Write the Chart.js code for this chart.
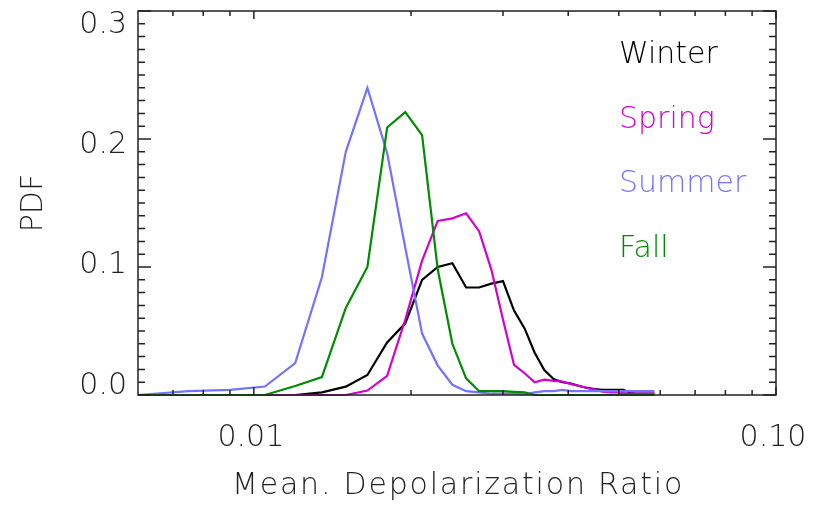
<!DOCTYPE html>
<html>
<head>
<meta charset="utf-8">
<script src="https://cdn.jsdelivr.net/npm/chart.js@4/dist/chart.umd.min.js"></script>
<style>
  html, body { margin: 0; padding: 0; background: #fff; }
  canvas { display: block; }
</style>
</head>
<body>
<canvas id="pdf" width="825" height="505"></canvas>
<script>
// bin centres of the depolarization ratio histogram
const ratioBins = [
  0.006, 0.0075, 0.009, 0.0105, 0.012, 0.0135, 0.015, 0.0165, 0.018, 0.0195,
  0.021, 0.0225, 0.024, 0.0255, 0.027, 0.0285, 0.030, 0.0315, 0.033, 0.0345,
  0.036, 0.0375, 0.039, 0.0405, 0.042, 0.0435, 0.045, 0.0465, 0.048, 0.0495,
  0.051, 0.0525, 0.054, 0.0555, 0.057, 0.0585
];

const winterPdf = [
  0, 0, 0, 0, 0, 0.002, 0.0065, 0.0156, 0.041, 0.056,
  0.090, 0.100, 0.103, 0.084, 0.084, 0.087, 0.089, 0.066, 0.052, 0.033,
  0.0195, 0.0125, 0.010, 0.009, 0.007, 0.0055, 0.0047, 0.004, 0.004, 0.004,
  0.004, 0.002, 0.001, 0.001, 0.001, 0.001
];
const springPdf = [
  0, 0, 0, 0, 0, 0, 0, 0.0035, 0.015, 0.059,
  0.105, 0.136, 0.138, 0.142, 0.128, 0.098, 0.059, 0.0235, 0.017, 0.010,
  0.012, 0.011, 0.0105, 0.0085, 0.007, 0.0055, 0.0043, 0.0027, 0.002, 0.002,
  0.0015, 0.001, 0.001, 0.001, 0.001, 0.001
];
const summerPdf = [
  0, 0.003, 0.004, 0.0066, 0.025, 0.092, 0.19, 0.240, 0.189, 0.115,
  0.048, 0.023, 0.008, 0.003, 0.002, 0.001, 0.001, 0.001, 0.0005, 0.002,
  0.003, 0.003, 0.004, 0.003, 0.003, 0.003, 0.003, 0.003, 0.003, 0.003,
  0.003, 0.003, 0.003, 0.003, 0.003, 0.003
];
const fallPdf = [
  0, 0, 0, 0, 0.007, 0.014, 0.068, 0.100, 0.209, 0.221,
  0.203, 0.098, 0.040, 0.013, 0.003, 0.003, 0.003, 0.0025, 0.002, 0,
  0, 0, 0, 0, 0, 0, 0, 0, 0, 0,
  0, 0, 0, 0, 0, 0
];

const seasons = ['Winter', 'Spring', 'Summer', 'Fall'];
const seasonColors = ['#000000', '#d200d2', '#7373ff', '#008c00'];

const xMajorTicks = [0.01, 0.1];
const xTickLabels = ['0.01', '0.10'];
const xMinorTicks = [0.007, 0.008, 0.009, 0.02, 0.03, 0.04, 0.05, 0.06, 0.07, 0.08, 0.09];
const yTickLabels = ['0.0', '0.1', '0.2', '0.3'];

const xTitle = 'Mean. Depolarization Ratio';
const yTitle = 'PDF';

const FONT = '200 30px "DejaVu Sans", "Noto Sans", sans-serif';
const INK = '#222';

function toPoints(values) {
  return values.map((v, i) => ({ x: ratioBins[i], y: v }));
}

// IDL-style box: frame, inward ticks on all sides, labels and a text legend
const boxAxes = {
  id: 'boxAxes',
  afterDraw(chart) {
    const { ctx, chartArea: a } = chart;
    const xs = chart.scales.x, ys = chart.scales.y;
    ctx.save();
    ctx.strokeStyle = INK;
    ctx.lineWidth = 1.5;
    ctx.strokeRect(a.left, a.top, a.right - a.left, a.bottom - a.top);

    ctx.beginPath();
    // y ticks every 0.01, long ones every 0.1
    for (let i = 0; i <= 30; i++) {
      const p = ys.getPixelForValue(i / 100);
      const len = i % 10 === 0 ? 13 : 7;
      ctx.moveTo(a.left, p); ctx.lineTo(a.left + len, p);
      ctx.moveTo(a.right, p); ctx.lineTo(a.right - len, p);
    }
    const xTick = (v, len) => {
      const p = xs.getPixelForValue(v);
      ctx.moveTo(p, a.bottom); ctx.lineTo(p, a.bottom - len);
      ctx.moveTo(p, a.top); ctx.lineTo(p, a.top + len);
    };
    xMinorTicks.forEach(v => xTick(v, 5));
    xMajorTicks.forEach(v => xTick(v, 8));
    ctx.stroke();

    ctx.font = FONT;
    ctx.fillStyle = INK;

    // y labels sit on a slightly squeezed span inside the frame
    ctx.textAlign = 'right';
    ctx.textBaseline = 'middle';
    yTickLabels.forEach(t => {
      const p = ys.getPixelForValue(parseFloat(t));
      ctx.fillText(t, a.left - 11, a.bottom - 9 + (p - a.bottom) * 0.94);
    });

    ctx.textAlign = 'center';
    xMajorTicks.forEach((v, i) => {
      ctx.fillText(xTickLabels[i], xs.getPixelForValue(v) - 3, a.bottom + 43);
    });

    // the axis title is set a little wider than the other text
    ctx.letterSpacing = '1.8px';
    ctx.fillText(xTitle, (a.left + a.right) / 2 + 1, a.bottom + 91);
    ctx.letterSpacing = '0px';

    ctx.save();
    ctx.translate(a.left - 104, (a.top + a.bottom) / 2);
    ctx.rotate(-Math.PI / 2);
    ctx.fillText(yTitle, 0, 0);
    ctx.restore();

    // season names in their line colours
    ctx.textAlign = 'left';
    ctx.textBaseline = 'alphabetic';
    chart.data.datasets.forEach((ds, i) => {
      ctx.fillStyle = ds.borderColor;
      ctx.fillText(ds.label, a.right - 157, a.top + 52 + i * 64.5);
    });
    ctx.restore();
  }
};

new Chart(document.getElementById('pdf'), {
  type: 'line',
  data: {
    datasets: [winterPdf, springPdf, summerPdf, fallPdf].map((vals, i) => ({
      label: seasons[i],
      data: toPoints(vals),
      borderColor: seasonColors[i],
      borderWidth: 2.2,
      pointRadius: 0,
      tension: 0,
      fill: false,
      clip: false,
      order: 4 - i
    }))
  },
  options: {
    responsive: false,
    animation: false,
    layout: { padding: { left: 138, right: 49, top: 11, bottom: 110 } },
    plugins: { legend: { display: false }, tooltip: { enabled: false } },
    scales: {
      x: { type: 'logarithmic', min: 0.006, max: 0.1, display: false },
      y: { type: 'linear', min: 0, max: 0.3, display: false }
    }
  },
  plugins: [boxAxes]
});
</script>
</body>
</html>
